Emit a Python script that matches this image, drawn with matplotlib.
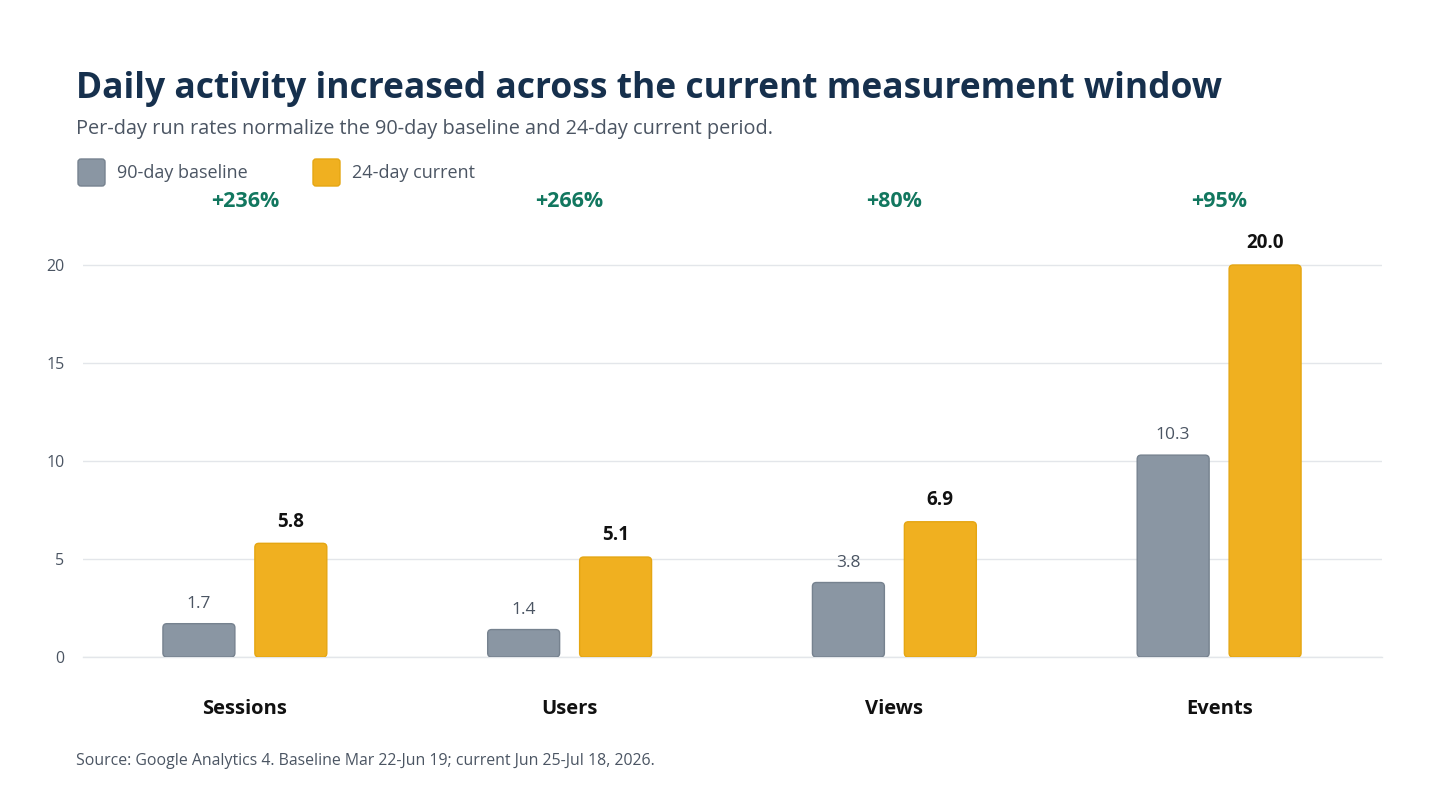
import matplotlib.pyplot as plt
from matplotlib.patches import FancyBboxPatch
from matplotlib.transforms import blended_transform_factory
import numpy as np

plt.rcParams['font.family'] = ['Open Sans', 'DejaVu Sans']

categories = ['Sessions', 'Users', 'Views', 'Events']
baseline = [1.7, 1.4, 3.8, 10.3]
current = [5.8, 5.1, 6.9, 20.0]
changes = ['+236%', '+266%', '+80%', '+95%']
yticks = [0, 5, 10, 15, 20]

GRAY = '#8a96a3'
GRAY_EDGE = '#76828f'
GOLD = '#f0b020'
GOLD_EDGE = '#e5a612'
TEXT = '#4b5563'
GRID = '#e3e6ea'

fig = plt.figure(figsize=(14.56, 7.91), dpi=100)
ax = fig.add_axes([82.5 / 1456, 134 / 791, 1299 / 1456, 431.2 / 791])

x = np.arange(len(categories))
w = 72 / 325
off = 46 / 325

b1 = ax.bar(x - off, baseline, w, color=GRAY)
b2 = ax.bar(x + off, current, w, color=GOLD)

# swap plain bars for rounded ones
ax.set_xlim(-0.5, 3.5)
ax.set_ylim(0, 22)
rx = 4 / 325
ry = 4 / 19.6
for bars, fc, ec in [(b1, GRAY, GRAY_EDGE), (b2, GOLD, GOLD_EDGE)]:
    for p in bars:
        p.set_visible(False)
        r = FancyBboxPatch((p.get_x(), p.get_y()), p.get_width(), p.get_height(),
                           boxstyle=f"round,pad=0,rounding_size={rx}",
                           mutation_aspect=ry / rx, fc=fc, ec=ec, lw=1, zorder=3)
        ax.add_patch(r)

for xi, v in zip(x - off, baseline):
    ax.text(xi, v + 0.6, f"{v:.1f}", ha='center', va='bottom', fontsize=12.5, color=TEXT)
for xi, v in zip(x + off, current):
    ax.text(xi, v + 0.6, f"{v:.1f}", ha='center', va='bottom', fontsize=13.5,
            color='#111111', fontweight='bold')

ax.set_yticks(yticks)
ax.set_yticklabels([str(t) for t in yticks], fontsize=11.5, color=TEXT)
ax.tick_params(axis='y', length=0, pad=13)
ax.set_xticks(x)
ax.set_xticklabels(categories, fontsize=14.5, fontweight='bold', color='#111111')
ax.tick_params(axis='x', length=0, pad=30)
ax.grid(axis='y', color=GRID, lw=1)
ax.axhline(0, color=GRID, lw=1, zorder=0.5, clip_on=False)
ax.set_axisbelow(True)
for s in ax.spines.values():
    s.set_visible(False)

tr = blended_transform_factory(ax.transData, fig.transFigure)
for xi, c in zip(x, changes):
    ax.text(xi, 1 - 201 / 791, c, transform=tr,
            ha='center', va='center', fontsize=15.5, fontweight='bold', color='#12775f')

fig.text(76 / 1456, 1 - 89 / 791, "Daily activity increased across the current measurement window",
         fontsize=25.5, fontweight='bold', color='#16304d', va='center')
fig.text(76 / 1456, 1 - 129 / 791,
         "Per-day run rates normalize the 90-day baseline and 24-day current period.",
         fontsize=14.3, color=TEXT, va='center')

for lx, lbl, fc, ec in [(78, '90-day baseline', GRAY, GRAY_EDGE), (313, '24-day current', GOLD, GOLD_EDGE)]:
    sq = FancyBboxPatch((lx / 1456, 1 - 186 / 791), 27 / 1456, 27 / 791,
                        boxstyle=f"round,pad=0,rounding_size={3/1456}",
                        mutation_aspect=1456 / 791, transform=fig.transFigure,
                        fc=fc, ec=ec, lw=1)
    fig.patches.append(sq)
    fig.text((lx + 39) / 1456, 1 - 173 / 791, lbl, fontsize=13, color=TEXT, va='center')

fig.text(76 / 1456, 1 - 761 / 791,
         "Source: Google Analytics 4. Baseline Mar 22-Jun 19; current Jun 25-Jul 18, 2026.",
         fontsize=11.4, color=TEXT, va='center')

fig.savefig('out.png', dpi=100, facecolor='white')
